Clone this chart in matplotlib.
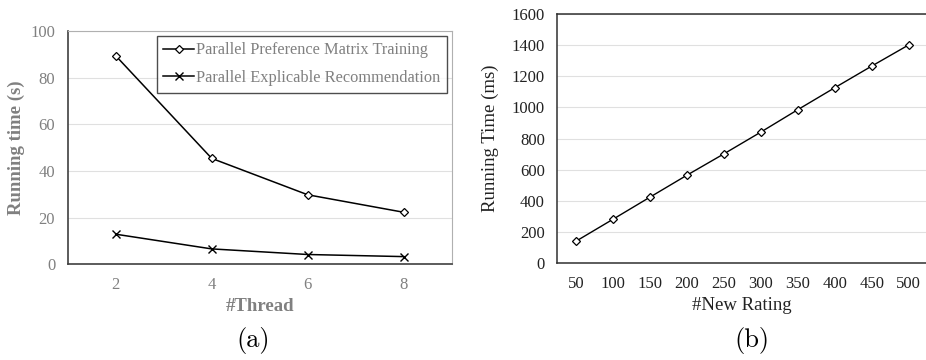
import matplotlib.pyplot as plt

# panel (a)
threads = ["2", "4", "6", "8"]
pmt_time = [89.4, 45.4, 29.8, 22.3]
per_time = [12.9, 6.6, 4.2, 3.3]
a_yticks = [0, 20, 40, 60, 80, 100]

# panel (b)
ratings = ["50", "100", "150", "200", "250", "300", "350", "400", "450", "500"]
update_time = [141, 282, 424, 565, 702, 842, 986, 1127, 1266, 1402]
b_yticks = [0, 200, 400, 600, 800, 1000, 1200, 1400, 1600]

plt.rcParams['font.family'] = ['Liberation Serif', 'DejaVu Serif']
gray = '#808080'

fig = plt.figure(figsize=(9.26, 3.6), dpi=100)
W, H = 926.0, 360.0

# ---- (a)
ax1 = fig.add_axes([67.7 / W, 1 - 264.3 / H, 384 / W, 233.3 / H])
xa = range(len(threads))
ax1.plot(xa, pmt_time, color='black', lw=1.1, marker='D', ms=4.5,
         mfc='white', mec='black', mew=0.9, label='Parallel Preference Matrix Training')
ax1.plot(xa, per_time, color='black', lw=1.1, marker='x', ms=6,
         mew=1.0, label='Parallel Explicable Recommendation')
ax1.set_xlim(-0.5, 3.5)
ax1.set_ylim(0, 100)
ax1.set_xticks(list(xa))
ax1.set_xticklabels(threads)
ax1.set_yticks(a_yticks)
ax1.yaxis.grid(True, color='#e0e0e0', lw=0.8)
ax1.set_axisbelow(True)
ax1.tick_params(length=0, labelsize=12, labelcolor=gray, pad=9.5)
ax1.tick_params(axis='y', pad=9)
for s in ['top', 'right']:
    ax1.spines[s].set_color('#b0b0b0')
for s in ['left', 'bottom']:
    ax1.spines[s].set_color('#404040')
    ax1.spines[s].set_linewidth(1.2)
ax1.set_xlabel('#Thread', fontsize=13.5, fontweight='bold', color=gray, labelpad=3)
ax1.set_ylabel('Running time (s)', fontsize=13.5, fontweight='bold', color=gray, labelpad=4)
leg = ax1.legend(loc='upper right', fontsize=11.8, frameon=True, fancybox=False,
                 edgecolor='#202020', handlelength=1.9, handletextpad=0.1,
                 borderaxespad=0.3, labelspacing=0.7, borderpad=0.4)
leg.get_frame().set_linewidth(1.0)
for t in leg.get_texts():
    t.set_color(gray)
fig.text(253 / W, 1 - 340 / H, '(a)', fontsize=19, family=['cmr10', 'DejaVu Serif'],
         ha='center', va='center')

# ---- (b)
ax2 = fig.add_axes([557.3 / W, 1 - 263.3 / H, 370 / W, 249.3 / H])
xb = range(len(ratings))
ax2.plot(xb, update_time, color='black', lw=1.0, marker='D', ms=4.5,
         mfc='white', mec='black', mew=0.9)
ax2.set_xlim(-0.5, 9.5)
ax2.set_ylim(0, 1600)
ax2.set_xticks(list(xb))
ax2.set_xticklabels(ratings)
ax2.set_yticks(b_yticks)
ax2.yaxis.grid(True, color='#e0e0e0', lw=0.8)
ax2.set_axisbelow(True)
ax2.tick_params(length=0, labelsize=12, labelcolor='#222222', pad=9.5)
ax2.tick_params(axis='y', pad=9)
for s in ax2.spines.values():
    s.set_color('#303030')
    s.set_linewidth(1.1)
ax2.set_xlabel('#New Rating', fontsize=13.5, color='#222222', labelpad=3)
ax2.set_ylabel('Running Time (ms)', fontsize=13.5, color='#222222', labelpad=9)
fig.text(751.7 / W, 1 - 340 / H, '(b)', fontsize=19, family=['cmr10', 'DejaVu Serif'],
         ha='center', va='center')

fig.savefig('out.png', dpi=100)
